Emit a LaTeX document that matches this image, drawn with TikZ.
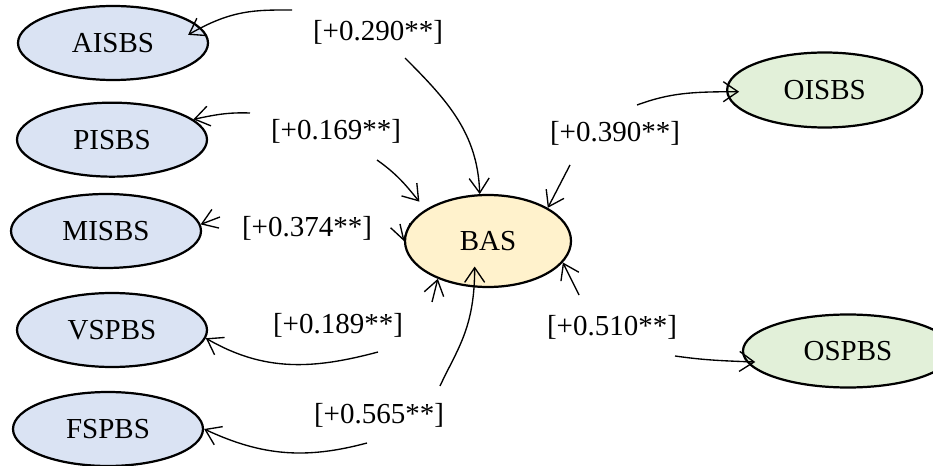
\documentclass[tikz,border=0pt]{standalone}
\usepackage{fontspec}
\setmainfont{Liberation Serif}
\usepackage{xcolor}
\usepackage{tikz}
\usetikzlibrary{arrows.meta,shapes.geometric}
\definecolor{sbblue}{RGB}{218,227,243}
\definecolor{sbyellow}{RGB}{255,242,204}
\definecolor{sbgreen}{RGB}{226,240,217}
\tikzset{
  sbnode/.style={ellipse, draw=black, line width=1.9pt, inner sep=0pt,
    minimum width=5.70cm, minimum height=2.22cm},
  sbcoef/.style={inner sep=0pt},
  sbarrow/.style={-{Straight Barb[length=0.44cm,width=0.6cm]}, line width=1.15pt, draw=black}
}

\begin{document}
\begin{tikzpicture}[font=\fontsize{24.75}{30}\selectfont]
  \useasboundingbox (0cm,0cm) rectangle (27.99cm,-13.98cm);
  \node[sbnode, fill=sbblue] (eAI) at (3.39cm,-1.29cm) {AISBS};
  \node[sbnode, fill=sbblue] (ePI) at (3.36cm,-4.19cm) {PISBS};
  \node[sbnode, fill=sbblue] (eMI) at (3.18cm,-6.93cm) {MISBS};
  \node[sbnode, fill=sbblue] (eVS) at (3.36cm,-9.90cm) {VSPBS};
  \node[sbnode, fill=sbblue] (eFS) at (3.24cm,-12.87cm) {FSPBS};
  \node[sbnode, fill=sbyellow, minimum width=4.98cm, minimum height=2.76cm] (eBA) at (14.64cm,-7.23cm) {BAS};
  \node[sbnode, fill=sbgreen, minimum width=5.85cm, minimum height=2.25cm] (eOI) at (24.74cm,-2.70cm) {OISBS};
  \node[sbnode, fill=sbgreen, minimum width=6.30cm, minimum height=2.19cm] (eOS) at (25.44cm,-10.53cm) {OSPBS};
  \node[sbcoef] (kAI) at (11.34cm,-0.96cm) {[+0.290**]};
  \node[sbcoef] (kPI) at (10.08cm,-3.93cm) {[+0.169**]};
  \node[sbcoef] (kMI) at (9.21cm,-6.84cm) {[+0.374**]};
  \node[sbcoef] (kVS) at (10.14cm,-9.75cm) {[+0.189**]};
  \node[sbcoef] (kFS) at (11.37cm,-12.45cm) {[+0.565**]};
  \node[sbcoef] (kOI) at (18.45cm,-3.99cm) {[+0.390**]};
  \node[sbcoef] (kOS) at (18.36cm,-9.81cm) {[+0.510**]};
  \coordinate (kAIa) at (8.76cm,-0.30cm);
  \coordinate (kAIb) at (12.15cm,-1.74cm);
  \coordinate (kPIa) at (7.50cm,-3.39cm);
  \coordinate (kPIb) at (11.31cm,-4.80cm);
  \coordinate (kMIa) at (6.60cm,-6.51cm);
  \coordinate (kMIb) at (12.00cm,-6.72cm);
  \coordinate (kVSa) at (11.34cm,-10.56cm);
  \coordinate (kVSb) at (12.96cm,-9.06cm);
  \coordinate (kFSa) at (11.01cm,-13.29cm);
  \coordinate (kFSb) at (13.20cm,-11.58cm);
  \coordinate (kOIa) at (19.11cm,-3.15cm);
  \coordinate (kOIb) at (17.10cm,-4.95cm);
  \coordinate (kOSa) at (20.25cm,-10.68cm);
  \coordinate (kOSb) at (17.37cm,-8.85cm);
  \draw[sbarrow, shorten >=-0.44cm] (kAIa) to[out=180,in=30] (eAI.10);
  \draw[sbarrow] (kAIb) to[out=-45,in=92] (eBA.100);
  \draw[sbarrow] (kPIa) to[out=178,in=12] (ePI.14);
  \draw[sbarrow, shorten >=0.3cm] (kPIb) to[out=-35,in=130] (eBA.153);
  \draw[sbarrow] (kMIa) -- (eMI.4);
  \draw[sbarrow] (kMIb) -- (eBA.180);
  \draw[sbarrow] (kVSa) to[out=195,in=-30] (eVS.-5);
  \draw[sbarrow] (kVSb) -- (eBA.217);
  \draw[sbarrow] (kFSa) to[out=195,in=-25] (eFS.east);
  \draw[sbarrow, shorten >=-0.63cm] (kFSb) to[out=65,in=270] (eBA.254);
  \draw[sbarrow, shorten >=-0.39cm] (kOIa) to[out=20,in=180] (eOI.181);
  \draw[sbarrow] (kOIb) -- (eBA.29);
  \draw[sbarrow, shorten >=-0.27cm] (kOSa) to[out=-8,in=178] (eOS.186);
  \draw[sbarrow] (kOSb) -- (eBA.-16);
\end{tikzpicture}
\end{document}
